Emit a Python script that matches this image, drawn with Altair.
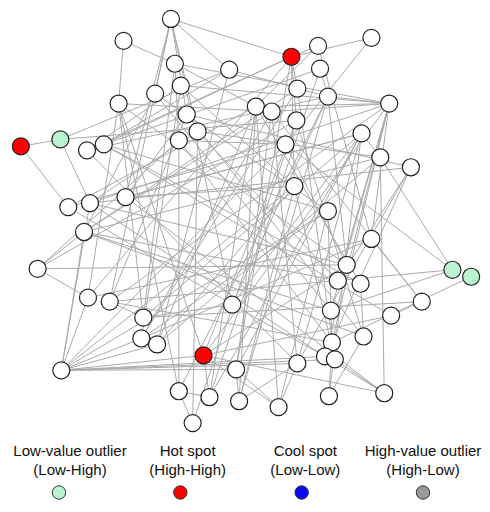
import altair as alt
import pandas as pd

# ---------------- data ----------------
node_x = [175, 127, 179, 234, 185, 159, 122, 191, 202, 183,
          23, 63, 90, 107, 129, 71, 93, 297, 324, 326,
          378, 303, 334, 396, 261, 277, 302, 368, 291, 387,
          418, 300, 334, 87, 40, 91, 113, 147, 145, 161,
          208, 64, 237, 241, 183, 214, 244, 197, 378, 353,
          344, 367, 460, 479, 429, 337, 398, 370, 338, 331,
          341, 303, 391, 335, 284]
node_y = [17, 39, 62, 68, 84, 92, 102, 113, 130, 139,
          145, 138, 149, 143, 196, 206, 202, 55, 44, 67,
          36, 87, 95, 102, 105, 110, 119, 132, 143, 156,
          166, 185, 210, 231, 268, 297, 301, 317, 338, 344,
          355, 370, 304, 369, 391, 397, 401, 423, 238, 264,
          280, 283, 269, 276, 301, 310, 315, 336, 342, 356,
          359, 363, 393, 396, 407]
node_type = ["none"] * 65
for i in (10, 17, 40):
    node_type[i] = "High-High"
for i in (11, 52, 53):
    node_type[i] = "Low-High"

edge_pairs = [
    (10, 11), (10, 15), (11, 16), (11, 3), (11, 26),
    (1, 2), (1, 6),
    (0, 17), (0, 3), (0, 5), (0, 7), (0, 8), (0, 14), (0, 36), (0, 42),
    (2, 24), (2, 23), (2, 9), (2, 37),
    (3, 22), (3, 13), (3, 39),
    (4, 31), (4, 38), (4, 23), (4, 12),
    (5, 32), (5, 33), (5, 55),
    (6, 25), (6, 40), (6, 37), (6, 49), (6, 44), (6, 35),
    (7, 30), (7, 57), (7, 14), (7, 36),
    (8, 47), (8, 50), (8, 16), (8, 29),
    (9, 44), (9, 28), (9, 58), (9, 34),
    (12, 61), (12, 22),
    (13, 17), (13, 56), (13, 51),
    (14, 31), (14, 27), (14, 62),
    (15, 28), (15, 42),
    (16, 49), (16, 23), (16, 59),
    (17, 18), (17, 20), (17, 21), (17, 26), (17, 31), (17, 35), (17, 43), (17, 12),
    (18, 24), (18, 48),
    (19, 22), (19, 45), (19, 13),
    (20, 28),
    (21, 38), (21, 60), (21, 33),
    (22, 23), (22, 44), (22, 49), (22, 42),
    (23, 24), (23, 25), (23, 48), (23, 50), (23, 55), (23, 58), (23, 59), (23, 36), (23, 40),
    (24, 45), (24, 64), (24, 39), (24, 51), (24, 15), (24, 46),
    (25, 38), (25, 61), (25, 43), (25, 54), (25, 33),
    (26, 40), (26, 47), (26, 57), (26, 34),
    (27, 42), (27, 43), (27, 63), (27, 61), (27, 14), (27, 37), (27, 29),
    (28, 52), (28, 41), (28, 49),
    (29, 52), (29, 62), (29, 33), (29, 39),
    (30, 59), (30, 50), (30, 61), (30, 16),
    (31, 41), (31, 46), (31, 60),
    (32, 38), (32, 55), (32, 13), (32, 64),
    (33, 34), (33, 41), (33, 55), (33, 57), (33, 50),
    (34, 35), (34, 49),
    (35, 41), (35, 48),
    (36, 37), (36, 58), (36, 52),
    (37, 54), (37, 42),
    (38, 41), (38, 48),
    (39, 41), (39, 31),
    (40, 41), (40, 62), (40, 45), (40, 56), (40, 49),
    (41, 43), (41, 61), (41, 59), (41, 60), (41, 16), (41, 32),
    (52, 55), (53, 58),
    (42, 59), (43, 46), (44, 45), (46, 61),
    (48, 54), (51, 57), (54, 56), (55, 58),
    (57, 63), (58, 63), (59, 62), (60, 62), (61, 64),
    (64, 43), (64, 40), (45, 27), (46, 22), (47, 44),
]

legend_line1 = ["Low-value outlier", "Hot spot", "Cool spot", "High-value outlier"]
legend_line2 = ["(Low-High)", "(High-High)", "(Low-Low)", "(High-Low)"]
legend_colors = ["#baf3cf", "#ff0000", "#0a0af0", "#9a9a9a"]

type_domain = ["none", "Low-High", "High-High"]
type_range = ["#ffffff", "#baf3cf", "#ff0000"]

# ---------------- tables ----------------
nodes = pd.DataFrame({"x": node_x, "y": node_y, "type": node_type})
edges = pd.DataFrame({
    "x1": [node_x[a] for a, b in edge_pairs],
    "y1": [node_y[a] for a, b in edge_pairs],
    "x2": [node_x[b] for a, b in edge_pairs],
    "y2": [node_y[b] for a, b in edge_pairs],
})
legend = pd.DataFrame({"l1": legend_line1, "l2": legend_line2, "c": legend_colors,
                       "k": list(range(4))})

W, H = 474, 492
xs = alt.Scale(domain=[10, 490], range=[0, 474], nice=False, zero=False)
ys = alt.Scale(domain=[6, 440], range=[0, 432], nice=False, zero=False)

edge_layer = alt.Chart(edges).mark_rule(color="#aaaaaa", strokeWidth=1).encode(
    x=alt.X("x1:Q", scale=xs, axis=None),
    y=alt.Y("y1:Q", scale=ys, axis=None),
    x2="x2:Q",
    y2="y2:Q",
)
node_layer = alt.Chart(nodes).mark_circle(
    size=290, opacity=1, stroke="#222222", strokeWidth=1.2
).encode(
    x=alt.X("x:Q", scale=xs, axis=None),
    y=alt.Y("y:Q", scale=ys, axis=None),
    fill=alt.Fill("type:N", scale=alt.Scale(domain=type_domain, range=type_range), legend=None),
)

font = "Liberation Sans"
tx = alt.X("k:O", scale=alt.Scale(type="point", range=[62, 415], padding=0), axis=None)
cx = alt.X("k:O", scale=alt.Scale(type="point", range=[51, 415], padding=0), axis=None)
t1 = alt.Chart(legend).mark_text(font=font, fontSize=15, color="#111111",
                                 baseline="middle").encode(
    x=tx, y=alt.value(443), text="l1:N")
t2 = alt.Chart(legend).mark_text(font=font, fontSize=15, color="#111111",
                                 baseline="middle").encode(
    x=tx, y=alt.value(462), text="l2:N")
dots = alt.Chart(legend).mark_circle(size=180, opacity=1, stroke="#333333",
                                     strokeWidth=1).encode(
    x=cx, y=alt.value(484.5),
    fill=alt.Fill("c:N", scale=None, legend=None))

chart = alt.layer(edge_layer, node_layer, t1, t2, dots).resolve_scale(
    x="independent", y="independent", fill="independent"
).properties(
    width=W, height=H, padding=0, autosize=alt.AutoSizeParams(type="none")
).configure_view(stroke=None)
chart.save("out.html", embed_options={"renderer": "svg", "actions": False})
